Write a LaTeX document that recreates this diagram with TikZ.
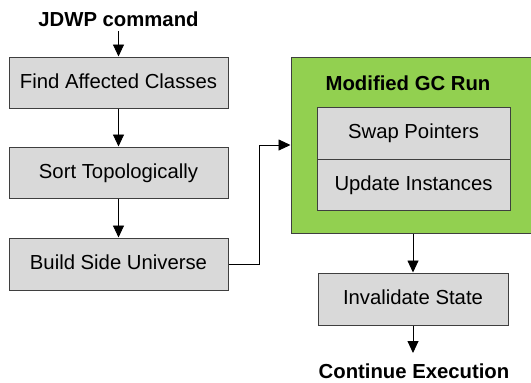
\documentclass[tikz,border=0pt]{standalone}
\usepackage{fontspec}
\setmainfont{Liberation Sans}
\usetikzlibrary{arrows.meta}
\definecolor{boxgray}{HTML}{D9D9D9}
\definecolor{gcgreen}{HTML}{92D050}
\definecolor{edgegray}{HTML}{3F3F3F}
\begin{document}
\begin{tikzpicture}[x=1pt,y=-1pt,
  every node/.style={font=\fontsize{20.3}{24}\selectfont, inner sep=0pt, text height=15pt, text depth=4pt},
  stepbox/.style={draw=edgegray, line width=1pt, fill=boxgray, minimum height=51pt},
  label/.style={font=\fontsize{20.3}{24}\selectfont\bfseries},
  flow/.style={line width=0.9pt, -{Triangle[length=12pt,width=11pt]}}]
\useasboundingbox (0,0) rectangle (531,383);

% left column
\node[label] (jdwp) at (118.5,20.5) {JDWP command};
\node[stepbox, minimum width=219pt] (find)  at (118.5,82.5)  {Find Affected Classes};
\node[stepbox, minimum width=219pt] (sort)  at (118.5,172.5) {Sort Topologically};
\node[stepbox, minimum width=219pt, minimum height=52pt] (build) at (118.5,264) {Build Side Universe};

% modified GC run
\node[draw=edgegray, line width=1pt, fill=gcgreen, minimum width=241pt, minimum height=176pt] (gc) at (411.5,145) {};
\node[label] (gctitle) at (408,85) {Modified GC Run};
\node[stepbox, minimum width=193pt, minimum height=52pt] (swap)   at (413.5,133)   {Swap Pointers};
\node[stepbox, minimum width=193pt, minimum height=51pt] (update) at (413.5,184.5) {Update Instances};

% right column
\node[stepbox, minimum width=190pt, minimum height=52pt] (inval) at (413,299) {Invalidate State};
\node[label, text depth=0pt] (cont) at (414,371) {Continue Execution};

\coordinate (jdwpout) at (118.5,31);
\coordinate (contin) at (413,353);

\draw[flow] (jdwpout) -- (find.north);
\draw[flow] (find.south) -- (sort.north);
\draw[flow] (sort.south) -- (build.north);
\draw[flow] (build.east) -- ++(31,0) |- (gc.west);
\draw[flow] (inval.north |- gc.south) -- (inval.north);
\draw[flow] (inval.south) -- (contin);
\end{tikzpicture}
\end{document}
